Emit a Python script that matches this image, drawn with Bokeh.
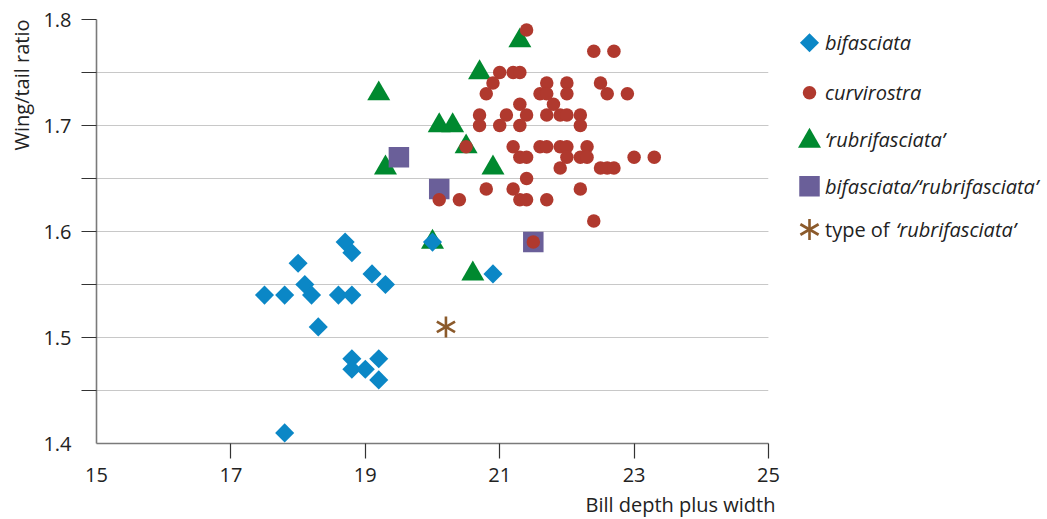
from bokeh.plotting import figure
from bokeh.models import Range1d, FixedTicker, Title
from bokeh.layouts import row
from bokeh.core.properties import value
from bokeh.embed import file_html
from bokeh.resources import INLINE
import numpy as np

# ---- data ----
bif_x = [17.5, 17.8, 18.0, 18.1, 18.2, 18.3, 18.6, 18.8, 18.7, 18.8, 19.1, 19.3,
         18.8, 18.8, 19.0, 19.2, 19.2, 17.8, 20.0, 20.9]
bif_y = [1.54, 1.54, 1.57, 1.55, 1.54, 1.51, 1.54, 1.54, 1.59, 1.58, 1.56, 1.55,
         1.48, 1.47, 1.47, 1.48, 1.46, 1.41, 1.59, 1.56]

curv_x = [21.4, 22.4, 22.7, 21.0, 21.2, 21.3, 20.9, 21.7, 22.0, 22.5,
          20.8, 21.6, 21.7, 22.0, 22.6, 22.9, 21.3, 21.8,
          20.7, 21.1, 21.4, 21.7, 21.9, 22.0, 22.2,
          20.7, 21.0, 21.3, 22.2,
          20.5, 21.2, 21.6, 21.7, 21.9, 22.0, 22.3,
          21.3, 21.4, 22.0, 22.2, 22.3, 23.0, 23.3,
          21.9, 22.5, 22.6, 22.7, 21.4,
          20.8, 21.2, 22.2,
          20.1, 20.4, 21.3, 21.4, 21.7, 22.4, 21.5]
curv_y = [1.79, 1.77, 1.77, 1.75, 1.75, 1.75, 1.74, 1.74, 1.74, 1.74,
          1.73, 1.73, 1.73, 1.73, 1.73, 1.73, 1.72, 1.72,
          1.71, 1.71, 1.71, 1.71, 1.71, 1.71, 1.71,
          1.70, 1.70, 1.70, 1.70,
          1.68, 1.68, 1.68, 1.68, 1.68, 1.68, 1.68,
          1.67, 1.67, 1.67, 1.67, 1.67, 1.67, 1.67,
          1.66, 1.66, 1.66, 1.66, 1.65,
          1.64, 1.64, 1.64,
          1.63, 1.63, 1.63, 1.63, 1.63, 1.61, 1.59]

rub_x = [21.3, 20.7, 19.2, 20.1, 20.3, 20.5, 19.3, 20.9, 20.0, 20.6]
rub_y = [1.78, 1.75, 1.73, 1.70, 1.70, 1.68, 1.66, 1.66, 1.59, 1.56]

hyb_x = [19.5, 20.1, 21.5]
hyb_y = [1.67, 1.64, 1.59]

type_x = [20.2]
type_y = [1.51]

x_ticks = [15, 17, 19, 21, 23, 25]
x_tick_marks = [17, 19, 21, 23, 25]
y_ticks = [1.4, 1.5, 1.6, 1.7, 1.8]
y_tick_marks = [1.45, 1.5, 1.55, 1.6, 1.65, 1.7, 1.75, 1.8]

x_title = "Bill depth plus width"
y_title = "Wing/tail ratio"
legend_labels = ["bifasciata", "curvirostra", "\u2018rubrifasciata\u2019",
                 "bifasciata/\u2018rubrifasciata\u2019"]
type_label_plain = "type of "
type_label_italic = "\u2018rubrifasciata\u2019"

# ---- style ----
BLUE = "#0B87C6"
RED = "#B0392E"
GREEN = "#00892F"
PURPLE = "#6A5F99"
BROWN = "#8B5A2B"
FONT = "Open Sans"
FS = "20px"
TXT = "#222222"

p = figure(frame_width=672, frame_height=424,
           min_border_left=96, min_border_right=12, min_border_top=19, min_border_bottom=0,
           x_range=Range1d(15, 25), y_range=Range1d(1.4, 1.8),
           output_backend="svg", toolbar_location=None, align="start")
p.outline_line_color = None
p.background_fill_color = "white"
p.border_fill_color = "white"

xt = FixedTicker(ticks=x_ticks, minor_ticks=x_tick_marks)
yt = FixedTicker(ticks=y_ticks, minor_ticks=y_tick_marks)
p.xaxis.ticker = xt
p.yaxis.ticker = yt
p.ygrid.ticker = yt
p.xgrid.visible = False
p.ygrid.grid_line_color = "#C8C8C8"
p.ygrid.grid_line_width = 1.2
p.ygrid.minor_grid_line_color = "#C8C8C8"
p.ygrid.minor_grid_line_width = 1.2

for ax in (p.xaxis[0], p.yaxis[0]):
    ax.axis_line_color = "#7A7A7A"
    ax.axis_line_width = 1.6
    ax.major_tick_out = 15
    ax.major_tick_in = 0
    ax.major_tick_line_color = None
    ax.minor_tick_out = 15
    ax.minor_tick_in = 0
    ax.minor_tick_line_color = "#333333"
    ax.minor_tick_line_width = 1.2
    ax.major_label_text_font = FONT
    ax.major_label_text_font_size = FS
    ax.major_label_text_color = TXT

p.xaxis.major_label_standoff = 9
p.yaxis.major_label_standoff = 10

p.add_layout(Title(text=x_title, align="right", text_font=FONT, text_font_size=FS,
                   text_font_style="normal", text_color=TXT, standoff=9, offset=-7), "below")
p.add_layout(Title(text=y_title, align="right", text_font=FONT, text_font_size=FS,
                   text_font_style="normal", text_color=TXT, standoff=11), "left")

# ---- marks ----
p.scatter(rub_x, rub_y, marker="triangle", size=23, fill_color=GREEN, line_color=None)
p.scatter(hyb_x, hyb_y, marker="square", size=20.5, fill_color=PURPLE, line_color=None)
p.scatter(curv_x, curv_y, marker="circle", size=13.5, fill_color=RED, line_color=None)
p.scatter(bif_x, bif_y, marker="square", angle=np.pi / 4, size=13.5, fill_color=BLUE, line_color=None)
for a in (np.pi / 2, np.pi / 6, -np.pi / 6):
    p.scatter(type_x, type_y, marker="dash", size=21, angle=a, line_color=BROWN, line_width=2.6)

# ---- legend panel (frame top aligned with the plot frame top) ----
LW, LH = 264, 280
leg = figure(frame_width=LW, frame_height=LH, min_border=0,
             x_range=Range1d(0, LW), y_range=Range1d(LH, 0),
             x_axis_type=None, y_axis_type=None,
             output_backend="svg", toolbar_location=None, align="start")
leg.outline_line_color = None
leg.xgrid.visible = False
leg.ygrid.visible = False

gx = 29
tx = 44.5
rows_y = [23.3, 73.3, 121.5, 166.7, 210.0]
leg.scatter([gx], [rows_y[0]], marker="square", angle=np.pi / 4, size=13.5, fill_color=BLUE, line_color=None)
leg.scatter([gx], [rows_y[1]], marker="circle", size=13.5, fill_color=RED, line_color=None)
leg.scatter([gx], [rows_y[2]], marker="triangle", size=23, fill_color=GREEN, line_color=None)
leg.scatter([gx], [rows_y[3]], marker="square", size=20.5, fill_color=PURPLE, line_color=None)
for a in (np.pi / 2, np.pi / 6, -np.pi / 6):
    leg.scatter([gx], [rows_y[4]], marker="dash", size=21, angle=a, line_color=BROWN, line_width=2.6)

leg.text(x=[tx] * 4, y=[rows_y[0], rows_y[1], rows_y[2] - 2, rows_y[3]], text=legend_labels,
         text_font=value(FONT), text_font_style="italic", text_font_size=FS,
         text_baseline="middle", text_align="left", text_color=TXT)
leg.text(x=[tx], y=[rows_y[4]], text=[type_label_plain],
         text_font=value(FONT), text_font_style="normal", text_font_size=FS,
         text_baseline="middle", text_align="left", text_color=TXT)
leg.text(x=[tx + 71], y=[rows_y[4]], text=[type_label_italic],
         text_font=value(FONT), text_font_style="italic", text_font_size=FS,
         text_baseline="middle", text_align="left", text_color=TXT)

layout = row(p, leg)
open("out.html", "w").write(file_html(layout, INLINE))
